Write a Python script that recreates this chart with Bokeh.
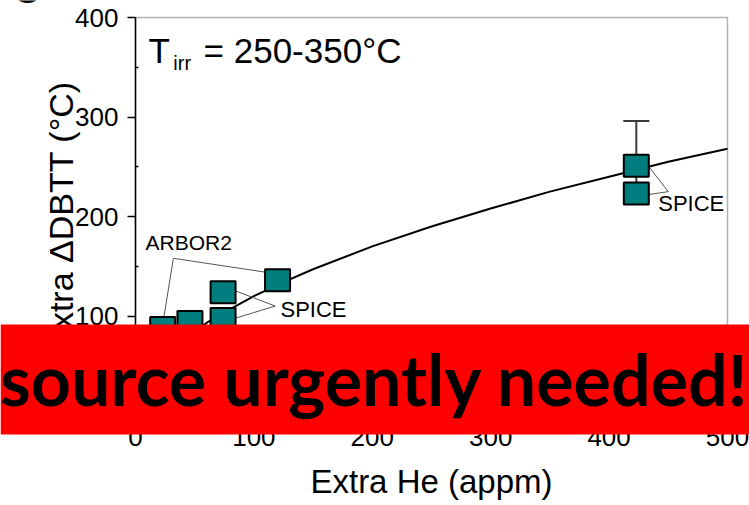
from bokeh.plotting import figure
from bokeh.models import (Range1d, FixedTicker, BoxAnnotation, Label, Whisker,
                          TeeHead, ColumnDataSource)
from bokeh.embed import file_html
from bokeh.resources import INLINE

# Extra DBTT shift vs. extra helium content (T_irr = 250-350 °C)
he_appm = [23, 46, 74, 74, 120, 423, 423]
extra_dbtt = [88, 94, 124, 97, 136, 251, 223]

# scatter band for the high-He point
err_he = [423]
err_low = [223]
err_high = [296]

# trend curve through the data
fit_he = [0, 5, 10, 20, 30, 40, 60, 80, 100, 125, 150, 200, 250, 300, 350, 400, 450, 500]
fit_dbtt = [0, 27, 38, 54, 66, 76, 93, 107, 120, 134, 147, 170, 190, 208, 225, 240, 255, 268]

x_ticks = [0, 100, 200, 300, 400, 500]
y_ticks = [0, 100, 200, 300, 400]

AXIS_FONT = "Liberation Sans"

# The frame spans the whole canvas; the axes sit at fixed data locations so that
# the banner and the panel letter can be drawn anywhere on the page.
p = figure(width=749, height=505, output_backend="svg", toolbar_location=None,
           x_range=Range1d(-114.0, 518.6), y_range=Range1d(-90.45, 417.1),
           min_border=0)
p.grid.visible = False
p.outline_line_color = None
p.background_fill_color = "white"
p.border_fill_color = "white"

for ax, ticks in ((p.xaxis[0], x_ticks), (p.yaxis[0], y_ticks)):
    ax.fixed_location = 0
    ax.bounds = (ticks[0], ticks[-1])
    ax.ticker = FixedTicker(ticks=ticks,
                            minor_ticks=[t + 50 for t in ticks[:-1]])
    ax.axis_line_width = 1.5
    ax.major_tick_line_width = 1.5
    ax.minor_tick_line_width = 1.5
    ax.major_tick_out = 8
    ax.major_tick_in = 0
    ax.minor_tick_out = 0
    ax.minor_tick_in = 3
    ax.major_label_text_font = AXIS_FONT
    ax.major_label_text_font_size = "26px"
    ax.major_label_text_color = "black"
    ax.axis_label_text_font = AXIS_FONT
    ax.axis_label_text_font_style = "normal"
    ax.axis_label_text_color = "black"

p.xaxis.axis_label = "Extra He (appm)"
p.xaxis.axis_label_text_font_size = "33px"
p.xaxis.major_label_standoff = 4
p.xaxis.axis_label_standoff = 14

p.yaxis.axis_label = "Extra \u0394DBTT (\u00b0C)"
p.yaxis.axis_label_text_font_size = "34px"
p.yaxis.major_label_standoff = 9
p.yaxis.axis_label_standoff = -8

# top and right edges of the plot box
p.add_layout(BoxAnnotation(left=x_ticks[0], right=x_ticks[-1], bottom=y_ticks[0],
                           top=y_ticks[-1], fill_alpha=0, line_color="black",
                           line_width=1.5, level="underlay"))

# trend curve
p.line(fit_he, fit_dbtt, line_color="black", line_width=2)

# scatter band
p.add_layout(Whisker(source=ColumnDataSource(dict(base=err_he, lower=err_low, upper=err_high)),
                     base="base", lower="lower", upper="upper", dimension="height",
                     line_color="#3a3a3a", line_width=2,
                     upper_head=TeeHead(size=26, line_color="#3a3a3a", line_width=2),
                     lower_head=None))

# leader lines from the data-set labels to their points
leaders = [
    (32, 158, 24, 99), (32, 158, 110, 144),      # ARBOR2
    (118, 110, 85, 125), (118, 110, 85, 98),     # SPICE (low He)
    (450, 225, 433, 251), (450, 225, 433, 222),  # SPICE (high He)
]
p.segment([s[0] for s in leaders], [s[1] for s in leaders],
          [s[2] for s in leaders], [s[3] for s in leaders],
          line_color="#555555", line_width=1)

p.rect(he_appm, extra_dbtt, width=25, height=22, width_units="screen",
       height_units="screen", fill_color="#007D7D", line_color="black", line_width=2)

def label(x, y, text, size, **kw):
    p.add_layout(Label(x=x, y=y, text=text, text_font=kw.pop("font", AXIS_FONT),
                       text_font_size=size, text_color="black",
                       text_baseline="alphabetic", **kw))

label(11, 367, "T", "35px")
label(32, 354, "irr", "20px")
label(57.5, 367, "= 250-350\u00b0C", "35px")
label(8.5, 174, "ARBOR2", "21px")
label(122.5, 107, "SPICE", "22px")
label(441.5, 213, "SPICE", "22px")

# cropped panel letter above the axis
label(-104, 429, "C", "40px", text_font_style="bold")

# banner across the lower part of the chart
p.add_layout(BoxAnnotation(top=91.5, bottom=-19.1, fill_color="#FF0000", fill_alpha=1.0,
                           line_alpha=0, level="overlay"))
p.add_layout(Label(x=202, y=37, text="source urgently needed!", text_font="Lato",
                   text_font_style="bold", text_font_size="70px", text_color="black",
                   text_align="center", text_baseline="alphabetic", level="overlay"))

open("out.html", "w").write(file_html(p, INLINE))
